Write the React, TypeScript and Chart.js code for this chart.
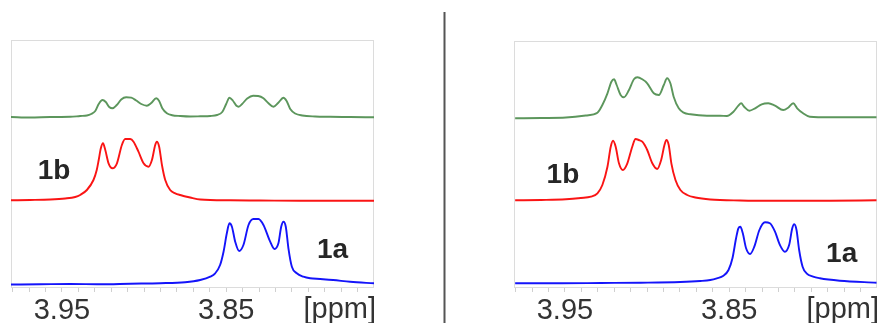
import React, { useEffect, useRef } from 'react';
import { Chart, registerables } from 'chart.js';

Chart.register(...registerables);

// ---- axis ----
const PPM_MIN = 3.76;
const PPM_MAX = 3.981;
const TICK_VALUES = [3.98, 3.97, 3.96, 3.95, 3.94, 3.93, 3.92, 3.91, 3.9, 3.89, 3.88, 3.87, 3.86, 3.85, 3.84, 3.83, 3.82, 3.81, 3.8, 3.79, 3.78, 3.77];
const TICK_LABELS = ['3.95', '3.85'];
const AXIS_UNIT = '[ppm]';

// baselines of the stacked traces (a.u.): blue, red, green
const TRACE_OFFSETS = [0, 84, 167];
const TRACE_NAMES = ['1a', '1b', 'mixture'];

// ---- left panel ----
const LEFT_GREEN_PPM = [3.981, 3.9693, 3.9571, 3.9449, 3.9389, 3.9348, 3.9322, 3.9297, 3.9276, 3.9253, 3.9233, 3.9212, 3.9192, 3.9166, 3.9139, 3.9109, 3.9078, 3.9048, 3.9017, 3.8983, 3.8956, 3.8926, 3.8908, 3.8889, 3.8861, 3.8829, 3.878, 3.8719, 3.8658, 3.8597, 3.8555, 3.8524, 3.85, 3.848, 3.846, 3.8439, 3.8424, 3.8403, 3.8372, 3.8336, 3.8305, 3.8273, 3.8244, 3.8212, 3.8184, 3.8151, 3.8132, 3.811, 3.808, 3.8037, 3.7958, 3.7867, 3.7745, 3.7599];
const LEFT_GREEN_INT = [0, -0.5, 0, 0.2, 1, 1.5, 3, 6, 13, 17, 15, 10, 8.7, 12, 17.5, 19.7, 19.3, 16.5, 13, 11.3, 14, 18.7, 16, 8.7, 3.7, 1.8, 1, 0.5, 0.7, 1, 2, 5, 13, 19.3, 16.5, 11.5, 10.3, 13, 18.5, 21.3, 21, 18.7, 14, 10.3, 14, 19.3, 16, 8, 3.5, 1.5, 0.5, 0.2, 0, -0.3];

const LEFT_RED_PPM = [3.981, 3.9693, 3.9571, 3.948, 3.9419, 3.9389, 3.9348, 3.9308, 3.9288, 3.9276, 3.9263, 3.925, 3.9236, 3.9216, 3.9192, 3.9165, 3.9135, 3.9115, 3.9084, 3.9064, 3.9034, 3.9003, 3.8973, 3.8952, 3.8932, 3.8922, 3.8908, 3.8891, 3.8871, 3.8841, 3.881, 3.878, 3.8719, 3.8658, 3.8476, 3.8293, 3.805, 3.7806, 3.7599];
const LEFT_RED_INT = [-0.3, 0, 0.5, 1.5, 3, 5, 10, 20, 30, 40, 51.7, 56.7, 50, 36.7, 31.7, 36.7, 55, 61, 61, 58.3, 48.3, 36.7, 33.3, 40, 55, 58.3, 53.3, 35, 20, 10, 6.7, 5, 2.5, 0.5, -0.3, -0.5, -0.8, -0.8, -0.7];

const LEFT_BLUE_PPM = [3.981, 3.9632, 3.9449, 3.9267, 3.9084, 3.8902, 3.875, 3.8658, 3.8597, 3.8567, 3.8537, 3.8516, 3.8496, 3.848, 3.8465, 3.8445, 3.8421, 3.8395, 3.8364, 3.8334, 3.8303, 3.8273, 3.8232, 3.8206, 3.8182, 3.8165, 3.8151, 3.8137, 3.8121, 3.81, 3.807, 3.803, 3.7989, 3.7928, 3.7849, 3.7745, 3.7599];
const LEFT_BLUE_INT = [-0.5, -0.3, 0, -0.3, 0.3, 0.8, 1.8, 4, 7.3, 10.7, 19, 32.3, 50.7, 60.7, 57.3, 42.3, 33, 39, 59, 65, 65, 59, 42.3, 35, 40.7, 57.3, 62.3, 57.3, 35.7, 17.3, 10.7, 7.3, 5.7, 5, 4, 2.2, 0.7];

// ---- right panel ----
const RIGHT_GREEN_PPM = [3.9803, 3.9645, 3.9494, 3.9373, 3.9302, 3.9272, 3.9241, 3.9217, 3.9201, 3.9185, 3.9161, 3.9141, 3.911, 3.908, 3.9059, 3.9029, 3.8999, 3.8959, 3.8928, 3.8898, 3.8878, 3.8858, 3.8838, 3.8807, 3.8777, 3.8736, 3.8635, 3.8555, 3.8514, 3.8474, 3.8444, 3.8427, 3.8409, 3.8377, 3.8342, 3.8302, 3.8262, 3.8221, 3.8171, 3.8141, 3.811, 3.8086, 3.805, 3.8009, 3.7888, 3.7736, 3.7603];
const RIGHT_GREEN_INT = [-1.3, -1, -0.5, 1.5, 4.3, 12, 23.7, 35.3, 37.7, 32, 22, 19.7, 27, 37.7, 39.7, 37.7, 33.7, 23.7, 22, 32, 38.7, 33.7, 20.3, 8.7, 4.3, 2.7, 1.3, 1.3, 1, 5.3, 11.3, 13.7, 10.3, 6.3, 8.7, 12.7, 13.7, 11.3, 7, 9.3, 13.7, 8.7, 3.7, 0.3, -0.3, -0.3, -0.3];

const RIGHT_RED_PPM = [3.9803, 3.9645, 3.9494, 3.9403, 3.9342, 3.9302, 3.9272, 3.9241, 3.9221, 3.9207, 3.9191, 3.9171, 3.9147, 3.912, 3.909, 3.907, 3.905, 3.9029, 3.8999, 3.8968, 3.8938, 3.8914, 3.8894, 3.8882, 3.8868, 3.8852, 3.8827, 3.8797, 3.8756, 3.8706, 3.8615, 3.8433, 3.8191, 3.7888, 3.7603];
const RIGHT_RED_INT = [-0.3, 0, 0.7, 2, 3.3, 6.7, 15, 33.3, 53.3, 59.3, 53.3, 36.7, 30, 36.7, 53.3, 61, 60, 58.3, 50, 36.7, 31, 40, 55, 60, 55, 36.7, 20, 10, 5, 2.5, 0.5, -0.5, -0.8, -0.7, -0.3];

const RIGHT_BLUE_PPM = [3.9803, 3.9524, 3.9282, 3.9039, 3.8797, 3.8676, 3.8615, 3.8575, 3.8535, 3.8504, 3.848, 3.8458, 3.8444, 3.8432, 3.8417, 3.8397, 3.8373, 3.8347, 3.8316, 3.8282, 3.8252, 3.8221, 3.8191, 3.8161, 3.8135, 3.8116, 3.8104, 3.809, 3.8074, 3.8053, 3.8029, 3.7989, 3.7948, 3.7827, 3.7603];
const RIGHT_BLUE_INT = [0.7, 0.7, 1, 1.3, 2, 3, 4, 5.7, 8.3, 14, 25.7, 45.7, 55.7, 57.3, 50.7, 35.7, 30, 37.3, 54, 61.7, 60.7, 52.3, 39, 32.3, 39, 55.7, 59.7, 54, 34, 17.3, 10.7, 7.3, 5.7, 3.3, 1.3];

// compound labels (text, ppm, a.u.)
const LEFT_LABEL_TEXT = ['1b', '1a'];
const LEFT_LABEL_PPM = [3.9548, 3.7852];
const LEFT_LABEL_Y = [113, 34];
const RIGHT_LABEL_TEXT = ['1b', '1a'];
const RIGHT_LABEL_PPM = [3.9512, 3.7815];
const RIGHT_LABEL_Y = [108.5, 30];

const COLORS = ['rgb(20,20,250)', 'rgb(250,20,20)', 'rgb(92,150,92)'];
const FONT = '"Liberation Sans", Arial, Helvetica, sans-serif';

type PanelCfg = {
  traces: { ppm: number[]; int: number[] }[];
  labels: { text: string[]; ppm: number[]; y: number[] };
  padding: { left: number; right: number; top: number };
  yMax: number;
  separator: boolean;
};

const toPoints = (ppm: number[], int: number[], off: number) => {
  const n = Math.min(ppm.length, int.length);
  const out: { x: number; y: number }[] = [];
  for (let i = 0; i < n; i++) out.push({ x: ppm[i], y: int[i] + off });
  return out;
};

function Panel({ cfg, left, width }: { cfg: PanelCfg; left: number; width: number }) {
  const ref = useRef<HTMLCanvasElement | null>(null);
  useEffect(() => {
    if (!ref.current) return;
    const decor = {
      id: 'decor',
      beforeDatasetsDraw(chart: any) {
        const { ctx, chartArea: a } = chart;
        ctx.save();
        ctx.strokeStyle = '#dcdcdc';
        ctx.lineWidth = 1;
        ctx.strokeRect(a.left + 0.5, a.top + 0.5, a.right - a.left - 1, a.bottom - a.top);
        if (cfg.separator) {
          ctx.fillStyle = '#555555';
          ctx.fillRect(3.5, 12, 2, chart.height - 12);
        }
        ctx.restore();
      },
      afterDraw(chart: any) {
        const { ctx, chartArea: a, scales } = chart;
        ctx.save();
        ctx.fillStyle = '#262626';
        ctx.font = `bold 28px ${FONT}`;
        ctx.textAlign = 'center';
        ctx.textBaseline = 'middle';
        cfg.labels.text.forEach((t, i) => {
          ctx.fillText(t, scales.x.getPixelForValue(cfg.labels.ppm[i]), scales.y.getPixelForValue(cfg.labels.y[i]));
        });
        ctx.fillStyle = '#333333';
        ctx.font = `29px ${FONT}`;
        ctx.textAlign = 'right';
        ctx.textBaseline = 'alphabetic';
        ctx.fillText(AXIS_UNIT, a.right + 2, a.bottom + 31);
        ctx.restore();
      },
    };
    const chart = new Chart(ref.current, {
      type: 'line',
      data: {
        datasets: cfg.traces.map((t, i) => ({
          label: TRACE_NAMES[i],
          data: toPoints(t.ppm, t.int, TRACE_OFFSETS[i]),
          borderColor: COLORS[i],
          borderWidth: 1.9,
          pointRadius: 0,
          fill: false,
          cubicInterpolationMode: 'monotone' as const,
        })),
      },
      options: {
        animation: false,
        responsive: false,
        devicePixelRatio: 1,
        layout: { padding: { left: cfg.padding.left, right: cfg.padding.right, top: cfg.padding.top, bottom: 0 } },
        plugins: { legend: { display: false }, tooltip: { enabled: false } },
        scales: {
          x: {
            type: 'linear',
            reverse: true,
            min: PPM_MIN,
            max: PPM_MAX,
            afterBuildTicks: (scale: any) => {
              scale.ticks = TICK_VALUES.map((v) => ({ value: v }));
            },
            afterFit: (scale: any) => {
              scale.height = 36;
            },
            ticks: {
              autoSkip: false,
              maxRotation: 0,
              padding: 2,
              color: '#333333',
              font: { family: FONT, size: 29 },
              callback: (v: any) => {
                const s = Number(v).toFixed(2);
                return TICK_LABELS.includes(s) ? s : '';
              },
            },
            grid: { drawOnChartArea: false, drawTicks: true, tickLength: 5, color: '#d0d0d0' },
            border: { display: false },
          },
          y: { display: false, min: -3, max: cfg.yMax },
        },
      },
      plugins: [decor],
    });
    return () => chart.destroy();
  }, [cfg]);
  return (
    <canvas
      ref={ref}
      width={width}
      height={323}
      style={{ position: 'absolute', left, top: 0, width, height: 323 }}
    />
  );
}

const LEFT_CFG: PanelCfg = {
  traces: [
    { ppm: LEFT_BLUE_PPM, int: LEFT_BLUE_INT },
    { ppm: LEFT_RED_PPM, int: LEFT_RED_INT },
    { ppm: LEFT_GREEN_PPM, int: LEFT_GREEN_INT },
  ],
  labels: { text: LEFT_LABEL_TEXT, ppm: LEFT_LABEL_PPM, y: LEFT_LABEL_Y },
  padding: { left: 11, right: 66, top: 40 },
  yMax: 244,
  separator: false,
};

const RIGHT_CFG: PanelCfg = {
  traces: [
    { ppm: RIGHT_BLUE_PPM, int: RIGHT_BLUE_INT },
    { ppm: RIGHT_RED_PPM, int: RIGHT_RED_INT },
    { ppm: RIGHT_GREEN_PPM, int: RIGHT_GREEN_INT },
  ],
  labels: { text: RIGHT_LABEL_TEXT, ppm: RIGHT_LABEL_PPM, y: RIGHT_LABEL_Y },
  padding: { left: 74, right: 2, top: 41 },
  yMax: 243,
  separator: true,
};

export default function App() {
  return (
    <div style={{ position: 'fixed', left: 0, top: 0, width: 879, height: 323, background: '#ffffff', overflow: 'hidden' }}>
      <Panel cfg={LEFT_CFG} left={0} width={440} />
      <Panel cfg={RIGHT_CFG} left={440} width={439} />
    </div>
  );
}
